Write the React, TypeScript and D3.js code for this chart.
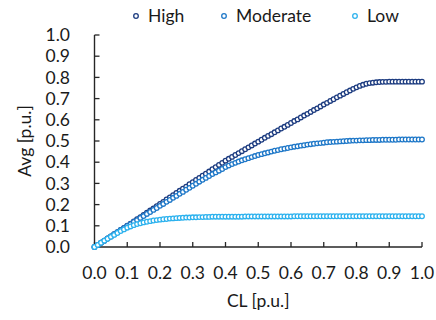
import React from "react";
import * as d3 from "d3";

const CL = [
  0.00, 0.01, 0.02, 0.03, 0.04, 0.05, 0.06, 0.07, 0.08, 0.09,
  0.10, 0.11, 0.12, 0.13, 0.14, 0.15, 0.16, 0.17, 0.18, 0.19,
  0.20, 0.21, 0.22, 0.23, 0.24, 0.25, 0.26, 0.27, 0.28, 0.29,
  0.30, 0.31, 0.32, 0.33, 0.34, 0.35, 0.36, 0.37, 0.38, 0.39,
  0.40, 0.41, 0.42, 0.43, 0.44, 0.45, 0.46, 0.47, 0.48, 0.49,
  0.50, 0.51, 0.52, 0.53, 0.54, 0.55, 0.56, 0.57, 0.58, 0.59,
  0.60, 0.61, 0.62, 0.63, 0.64, 0.65, 0.66, 0.67, 0.68, 0.69,
  0.70, 0.71, 0.72, 0.73, 0.74, 0.75, 0.76, 0.77, 0.78, 0.79,
  0.80, 0.81, 0.82, 0.83, 0.84, 0.85, 0.86, 0.87, 0.88, 0.89,
  0.90, 0.91, 0.92, 0.93, 0.94, 0.95, 0.96, 0.97, 0.98, 0.99,
  1.00,
];

const HIGH = [
  0.000, 0.010, 0.020, 0.030, 0.040, 0.050, 0.060, 0.070, 0.080, 0.090,
  0.100, 0.110, 0.120, 0.131, 0.141, 0.151, 0.162, 0.172, 0.182, 0.193,
  0.203, 0.213, 0.224, 0.234, 0.244, 0.255, 0.265, 0.275, 0.285, 0.296,
  0.306, 0.316, 0.326, 0.336, 0.346, 0.356, 0.367, 0.377, 0.387, 0.397,
  0.407, 0.416, 0.425, 0.434, 0.443, 0.452, 0.461, 0.470, 0.479, 0.488,
  0.497, 0.506, 0.515, 0.524, 0.532, 0.541, 0.550, 0.559, 0.567, 0.576,
  0.585, 0.594, 0.602, 0.611, 0.620, 0.628, 0.637, 0.646, 0.654, 0.663,
  0.672, 0.680, 0.689, 0.697, 0.706, 0.714, 0.722, 0.730, 0.738, 0.746,
  0.753, 0.760, 0.765, 0.770, 0.773, 0.775, 0.777, 0.778, 0.779, 0.779,
  0.780, 0.780, 0.780, 0.780, 0.780, 0.780, 0.780, 0.780, 0.780, 0.780,
  0.780,
];

const MODERATE = [
  0.000, 0.010, 0.020, 0.030, 0.040, 0.050, 0.060, 0.070, 0.080, 0.089,
  0.099, 0.108, 0.118, 0.127, 0.137, 0.146, 0.156, 0.165, 0.175, 0.184,
  0.194, 0.203, 0.213, 0.222, 0.232, 0.241, 0.251, 0.260, 0.270, 0.279,
  0.289, 0.298, 0.308, 0.317, 0.326, 0.335, 0.344, 0.352, 0.360, 0.368,
  0.377, 0.384, 0.391, 0.397, 0.403, 0.409, 0.414, 0.419, 0.424, 0.429,
  0.434, 0.438, 0.442, 0.446, 0.450, 0.454, 0.457, 0.461, 0.464, 0.467,
  0.470, 0.473, 0.475, 0.478, 0.480, 0.483, 0.485, 0.487, 0.489, 0.490,
  0.492, 0.494, 0.495, 0.496, 0.497, 0.498, 0.499, 0.500, 0.501, 0.502,
  0.502, 0.503, 0.503, 0.504, 0.504, 0.505, 0.505, 0.505, 0.506, 0.506,
  0.506, 0.506, 0.506, 0.507, 0.507, 0.507, 0.507, 0.507, 0.507, 0.507,
  0.507,
];

const LOW = [
  0.000, 0.010, 0.020, 0.030, 0.039, 0.048, 0.057, 0.066, 0.075, 0.083,
  0.091, 0.097, 0.103, 0.108, 0.112, 0.116, 0.119, 0.122, 0.125, 0.127,
  0.129, 0.131, 0.132, 0.134, 0.135, 0.136, 0.137, 0.138, 0.139, 0.139,
  0.140, 0.140, 0.141, 0.141, 0.142, 0.142, 0.143, 0.143, 0.143, 0.143,
  0.143, 0.143, 0.143, 0.143, 0.143, 0.143, 0.144, 0.144, 0.144, 0.144,
  0.144, 0.144, 0.144, 0.144, 0.144, 0.144, 0.144, 0.144, 0.144, 0.144,
  0.144, 0.145, 0.145, 0.145, 0.145, 0.145, 0.145, 0.145, 0.145, 0.145,
  0.145, 0.145, 0.145, 0.145, 0.145, 0.145, 0.145, 0.145, 0.145, 0.145,
  0.145, 0.145, 0.145, 0.145, 0.145, 0.145, 0.145, 0.145, 0.145, 0.145,
  0.145, 0.145, 0.145, 0.145, 0.145, 0.145, 0.145, 0.145, 0.145, 0.145,
  0.145,
];

const SERIES_NAMES = ["High", "Moderate", "Low"];
const SERIES_VALUES = [HIGH, MODERATE, LOW];
const SERIES_COLORS = ["#1d3c80", "#1f78c8", "#2db2ee"];

const TICKS = [0, 0.1, 0.2, 0.3, 0.4, 0.5, 0.6, 0.7, 0.8, 0.9, 1.0];
const TICK_LABELS = ["0.0", "0.1", "0.2", "0.3", "0.4", "0.5", "0.6", "0.7", "0.8", "0.9", "1.0"];

const X_TITLE = "CL [p.u.]";
const Y_TITLE = "Avg [p.u.]";

const LEGEND_MARKER_X = [136, 224, 355];

export default function App() {
  const W = 436;
  const H = 320;
  const x = d3.scaleLinear().domain([0, 1]).range([94.5, 422]);
  const y = d3.scaleLinear().domain([0, 1]).range([247, 35]);
  const font = "Lato, 'Open Sans', sans-serif";
  const fs = 17.5;
  const axisColor = "#262626";
  const textColor = "#1a1a1a";

  return (
    <svg
      width={W}
      height={H}
      style={{ position: "absolute", left: 0, top: 0, background: "#fff" }}
      fontFamily={font}
    >
      {/* axes */}
      <line x1={x(0)} x2={x(1)} y1={y(0)} y2={y(0)} stroke={axisColor} strokeWidth={1.4} />
      <line x1={x(0)} x2={x(0)} y1={y(0)} y2={y(1)} stroke={axisColor} strokeWidth={1.4} />
      {TICKS.map((t, i) => (
        <g key={"xt" + i}>
          <line x1={x(t)} x2={x(t)} y1={y(0)} y2={y(0) - 5} stroke={axisColor} strokeWidth={1.3} />
          <text x={x(t)} y={273} dy="0.35em" textAnchor="middle" fontSize={fs} fill={textColor}>
            {TICK_LABELS[i]}
          </text>
        </g>
      ))}
      {TICKS.map((t, i) => (
        <g key={"yt" + i}>
          <line x1={x(0)} x2={x(0) + 5} y1={y(t)} y2={y(t)} stroke={axisColor} strokeWidth={1.3} />
          <text x={70} y={y(t)} dy="0.35em" textAnchor="end" fontSize={fs} fill={textColor}>
            {TICK_LABELS[i]}
          </text>
        </g>
      ))}
      <text x={(x(0) + x(1)) / 2} y={301} dy="0.35em" textAnchor="middle" fontSize={fs} fill={textColor}>
        {X_TITLE}
      </text>
      <text
        transform={`translate(25,${(y(0) + y(1)) / 2}) rotate(-90)`}
        textAnchor="middle"
        dy="0.35em"
        fontSize={fs}
        fill={textColor}
      >
        {Y_TITLE}
      </text>

      {/* series */}
      {SERIES_VALUES.map((vals, si) => (
        <g key={"s" + si}>
          {vals.map((v, i) => (
            <circle
              key={i}
              cx={x(CL[i])}
              cy={y(v)}
              r={2.3}
              fill="#fff"
              stroke={SERIES_COLORS[si]}
              strokeWidth={1.3}
            />
          ))}
        </g>
      ))}

      {/* legend */}
      {SERIES_NAMES.map((name, i) => (
        <g key={"lg" + i}>
          <circle cx={LEGEND_MARKER_X[i]} cy={16} r={2.3} fill="#fff" stroke={SERIES_COLORS[i]} strokeWidth={1.3} />
          <text x={LEGEND_MARKER_X[i] + 12} y={16} dy="0.35em" fontSize={fs} fill={textColor}>
            {name}
          </text>
        </g>
      ))}
    </svg>
  );
}
